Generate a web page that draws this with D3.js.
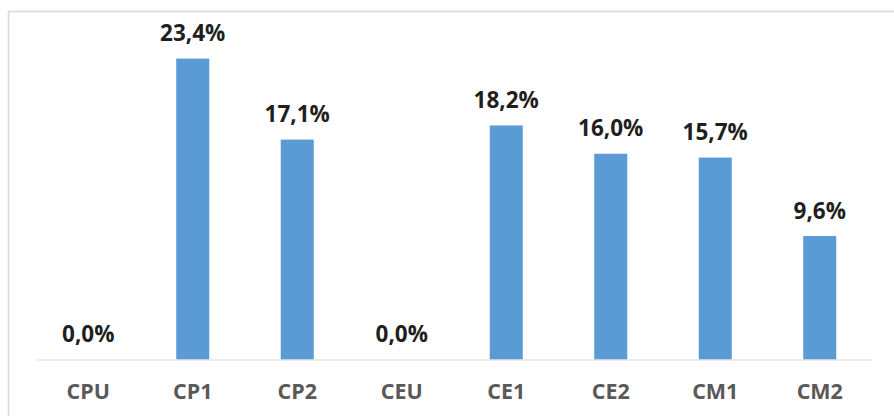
<!DOCTYPE html>
<html>
<head>
<meta charset="utf-8">
<script src="https://cdn.jsdelivr.net/npm/d3@7"></script>
<style>
  html, body { margin: 0; padding: 0; background: #fff; }
  svg { display: block; }
</style>
</head>
<body>
<svg id="chart" width="894" height="416"></svg>
<script>
const categories = ["CPU", "CP1", "CP2", "CEU", "CE1", "CE2", "CM1", "CM2"];
const values = [0.0, 23.4, 17.1, 0.0, 18.2, 16.0, 15.7, 9.6];
const valueLabels = ["0,0%", "23,4%", "17,1%", "0,0%", "18,2%", "16,0%", "15,7%", "9,6%"];

const svg = d3.select("#chart");
const W = 894, H = 416;
const fontFam = "'Open Sans', 'Liberation Sans', Arial, sans-serif";

// chart frame (extends past right and bottom edges)
svg.append("rect")
  .attr("x", 8.5).attr("y", 11.5)
  .attr("width", W + 20).attr("height", H + 20)
  .attr("fill", "#fff")
  .attr("stroke", "#d9d9d9")
  .attr("stroke-width", 1.6);

const plot = { left: 36, right: 872, bottom: 359.5 };
const p = 0.684;
const x = d3.scaleBand()
  .domain(categories)
  .range([plot.left, plot.right])
  .paddingInner(p)
  .paddingOuter(p / 2);

const y = d3.scaleLinear()
  .domain([0, 25])
  .range([plot.bottom, plot.bottom - 25 * 12.86]);

const data = categories.map((c, i) => ({ c, v: values[i], label: valueLabels[i] }));

// bars
svg.append("g").selectAll("rect")
  .data(data)
  .join("rect")
  .attr("x", d => x(d.c))
  .attr("y", d => y(d.v))
  .attr("width", x.bandwidth())
  .attr("height", d => y(0) - y(d.v))
  .attr("fill", "#5B9BD5");

// axis
const axis = svg.append("g")
  .attr("transform", `translate(0,${plot.bottom})`)
  .call(d3.axisBottom(x).tickSize(0).tickPadding(24.5).tickSizeOuter(0));
axis.select(".domain").attr("stroke", "#d9d9d9").attr("stroke-width", 1);
axis.selectAll("text")
  .attr("fill", "#595959")
  .style("font-family", fontFam)
  .style("font-size", "21.5px")
  .style("font-weight", "bold");

// data labels
svg.append("g").selectAll("text")
  .data(data)
  .join("text")
  .attr("x", d => x(d.c) + x.bandwidth() / 2)
  .attr("y", d => y(d.v) - 17.5)
  .attr("text-anchor", "middle")
  .attr("fill", "#1f1f1f")
  .style("font-family", fontFam)
  .style("font-size", "22.5px")
  .style("font-weight", "bold")
  .text(d => d.label);
</script>
</body>
</html>
